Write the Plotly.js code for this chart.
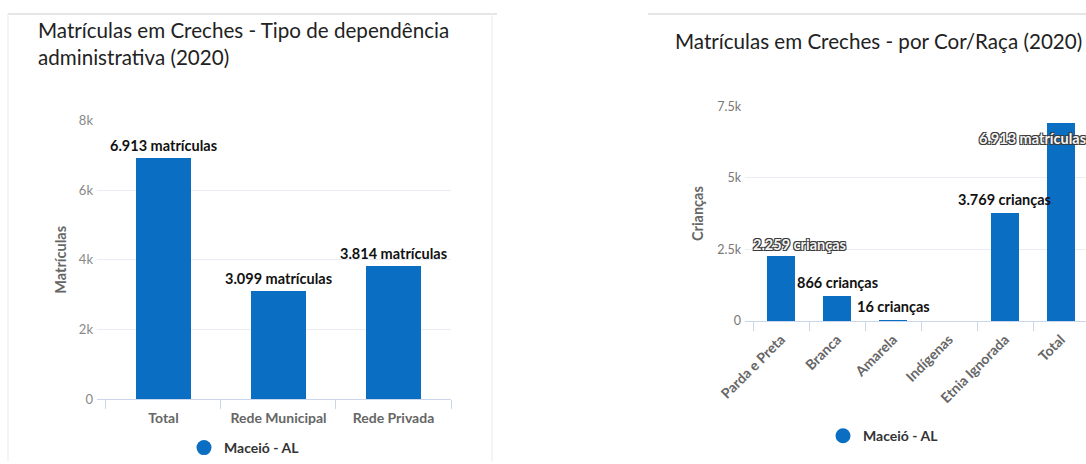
<!DOCTYPE html>
<html>
<head>
<meta charset="utf-8">
<script src="https://cdn.plot.ly/plotly-3.0.1.min.js"></script>
<style>
  html, body { margin: 0; padding: 0; background: #ffffff; }
  #chart { width: 1086px; height: 464px; }
</style>
</head>
<body>
<div id="chart"></div>
<script>
// ---------- data ----------
const seriesName = "Maceió - AL";

const depCategories = ["Total", "Rede Municipal", "Rede Privada"];
const depValues = [6913, 3099, 3814];
const depUnit = "matrículas";

const racaCategories = ["Parda e Preta", "Branca", "Amarela", "Indígenas", "Etnia Ignorada", "Total"];
const racaValues = [2259, 866, 16, 3, 3769, 6913];
const racaUnits = ["crianças", "crianças", "crianças", "crianças", "crianças", "matrículas"];
const racaLabelShown = [true, true, true, false, true, true];

const depTickVals = [0, 2000, 4000, 6000, 8000];
const depTickText = ["0", "2k", "4k", "6k", "8k"];
const racaTickVals = [0, 2500, 5000, 7500];
const racaTickText = ["0", "2.5k", "5k", "7.5k"];

// ---------- styling / layout helpers ----------
const W = 1086, H = 464;
const px = v => v / W;
const py = v => 1 - v / H;
const BLUE = "#0a6ec2";
const FONT = "Lato, 'Open Sans', sans-serif";
const fmt = v => v.toLocaleString("de-DE");
const bold = s => "<b>" + s + "</b>";

// label placement (styling only)
const racaLabelStyle = [
  { xshift: 18, yshift: 1, yanchor: "bottom", xanchor: "center", outline: true },
  { xshift: 0, yshift: 3, yanchor: "bottom", xanchor: "center", outline: false },
  { xshift: 0, yshift: 3, yanchor: "bottom", xanchor: "center", outline: false },
  { xshift: 0, yshift: 3, yanchor: "bottom", xanchor: "center", outline: false },
  { xshift: -1, yshift: 3, yanchor: "bottom", xanchor: "center", outline: false },
  { xshift: -84, yshift: -15, yanchor: "middle", xanchor: "left", outline: true }
];
const OUTLINE = "-1px -1px 0 #3a3a3a, 1px -1px 0 #3a3a3a, -1px 1px 0 #3a3a3a, 1px 1px 0 #3a3a3a";

const traces = [
  {
    type: "bar", x: depCategories, y: depValues, xaxis: "x", yaxis: "y",
    marker: { color: BLUE }, width: 0.48, showlegend: false, hoverinfo: "x+y", name: seriesName
  },
  {
    type: "bar", x: racaCategories, y: racaValues, xaxis: "x2", yaxis: "y2",
    marker: { color: BLUE }, width: 0.5, showlegend: false, hoverinfo: "x+y", name: seriesName
  },
  {
    type: "scatter", mode: "markers", x: [null], y: [null], xaxis: "x", yaxis: "y",
    name: seriesName, marker: { color: BLUE, size: 15, symbol: "circle" }, legend: "legend"
  },
  {
    type: "scatter", mode: "markers", x: [null], y: [null], xaxis: "x2", yaxis: "y2",
    name: seriesName, marker: { color: BLUE, size: 15, symbol: "circle" }, legend: "legend2"
  }
];

const annotations = [];
// panel titles
annotations.push({
  xref: "paper", yref: "paper", x: px(36), y: py(44), xanchor: "left", yanchor: "middle",
  text: "Matrículas em Creches - Tipo de dependência<br>administrativa (2020)", showarrow: false, align: "left",
  font: { family: FONT, size: 20.6, color: "#222", lineheight: 1.05 }
});
annotations.push({
  xref: "paper", yref: "paper", x: px(673), y: py(41), xanchor: "left", yanchor: "middle",
  text: "Matrículas em Creches - por Cor/Raça (2020)", showarrow: false, align: "left",
  font: { family: FONT, size: 20.6, color: "#222" }
});
// data labels, left chart
depCategories.forEach((c, i) => {
  annotations.push({
    xref: "x", yref: "y", x: c, y: depValues[i], xanchor: "center", yanchor: "bottom", yshift: 2,
    text: bold(fmt(depValues[i]) + " " + depUnit), showarrow: false,
    font: { family: FONT, size: 14.5, color: "#111" }
  });
});
// data labels, right chart
racaCategories.forEach((c, i) => {
  if (!racaLabelShown[i]) return;
  const s = racaLabelStyle[i];
  annotations.push({
    xref: "x2", yref: "y2", x: c, y: racaValues[i], xanchor: s.xanchor, yanchor: s.yanchor,
    xshift: s.xshift, yshift: s.yshift,
    text: bold(fmt(racaValues[i]) + " " + racaUnits[i]), showarrow: false,
    font: s.outline
      ? { family: FONT, size: 14.5, color: "#f4f4f4", shadow: OUTLINE }
      : { family: FONT, size: 14.5, color: "#111" }
  });
});

const shapes = [
  // left panel frame
  { type: "line", xref: "paper", yref: "paper", x0: px(8), x1: px(497), y0: py(14), y1: py(14), line: { color: "#dcdcdc", width: 1.5 } },
  { type: "line", xref: "paper", yref: "paper", x0: px(8), x1: px(8), y0: py(14), y1: 0, line: { color: "#f0f0f0", width: 1.5 } },
  { type: "line", xref: "paper", yref: "paper", x0: px(492), x1: px(492), y0: py(14), y1: 0, line: { color: "#f0f0f0", width: 1.5 } },
  // right panel frame
  { type: "line", xref: "paper", yref: "paper", x0: px(648), x1: 1, y0: py(14), y1: py(14), line: { color: "#dcdcdc", width: 1.5 } }
];

const gridColor = "#e9ecf2";
const axisLineColor = "#ccd6eb";

const layout = {
  width: W, height: H,
  margin: { l: 0, r: 0, t: 0, b: 0 },
  paper_bgcolor: "#ffffff", plot_bgcolor: "#ffffff",
  font: { family: FONT },
  bargap: 0,
  xaxis: {
    domain: [px(97), px(451)], anchor: "y",
    type: "category", range: [-0.578, 2.5],
    tickvals: depCategories, ticktext: depCategories.map(bold),
    tickson: "boundaries", ticks: "outside", ticklen: 9, tickcolor: axisLineColor,
    ticklabelstandoff: 6,
    showline: true, linecolor: axisLineColor, linewidth: 1,
    showgrid: false, zeroline: false,
    tickfont: { family: FONT, size: 14, color: "#666" },
    fixedrange: true
  },
  yaxis: {
    domain: [py(402), py(121)], anchor: "x",
    range: [0, 8000], tickvals: depTickVals, ticktext: depTickText,
    showgrid: true, gridcolor: gridColor, gridwidth: 1, zeroline: false, showline: false,
    ticks: "", ticklabelstandoff: 3,
    tickfont: { family: FONT, size: 13, color: "#888" },
    title: { text: bold("Matrículas"), font: { family: FONT, size: 14.5, color: "#666" }, standoff: 8 },
    fixedrange: true
  },
  xaxis2: {
    domain: [px(745), 1], anchor: "y2",
    type: "category", range: [-0.643, 5.446],
    tickvals: racaCategories, ticktext: racaCategories.map(bold),
    tickson: "boundaries", ticks: "outside", ticklen: 9, tickcolor: axisLineColor,
    ticklabelstandoff: 4,
    showline: true, linecolor: axisLineColor, linewidth: 1,
    showgrid: false, zeroline: false, tickangle: -45,
    tickfont: { family: FONT, size: 14, color: "#666" },
    fixedrange: true
  },
  yaxis2: {
    domain: [py(323), py(107)], anchor: "x2",
    range: [0, 7500], tickvals: racaTickVals, ticktext: racaTickText,
    showgrid: true, gridcolor: gridColor, gridwidth: 1, zeroline: false, showline: false,
    ticks: "", ticklabelstandoff: 3,
    tickfont: { family: FONT, size: 12.5, color: "#777" },
    title: { text: bold("Crianças"), font: { family: FONT, size: 14.5, color: "#666" }, standoff: 10 },
    fixedrange: true
  },
  showlegend: true,
  legend: {
    x: px(184), y: py(451), xanchor: "left", yanchor: "middle", orientation: "h",
    bgcolor: "rgba(0,0,0,0)", itemwidth: 30,
    font: { family: FONT, size: 14, color: "#333", weight: "bold" }
  },
  legend2: {
    x: px(823), y: py(439), xanchor: "left", yanchor: "middle", orientation: "h",
    bgcolor: "rgba(0,0,0,0)", itemwidth: 30,
    font: { family: FONT, size: 14, color: "#333", weight: "bold" }
  },
  annotations: annotations,
  shapes: shapes
};

Plotly.newPlot("chart", traces, layout, { displayModeBar: false, staticPlot: true });
</script>
</body>
</html>
